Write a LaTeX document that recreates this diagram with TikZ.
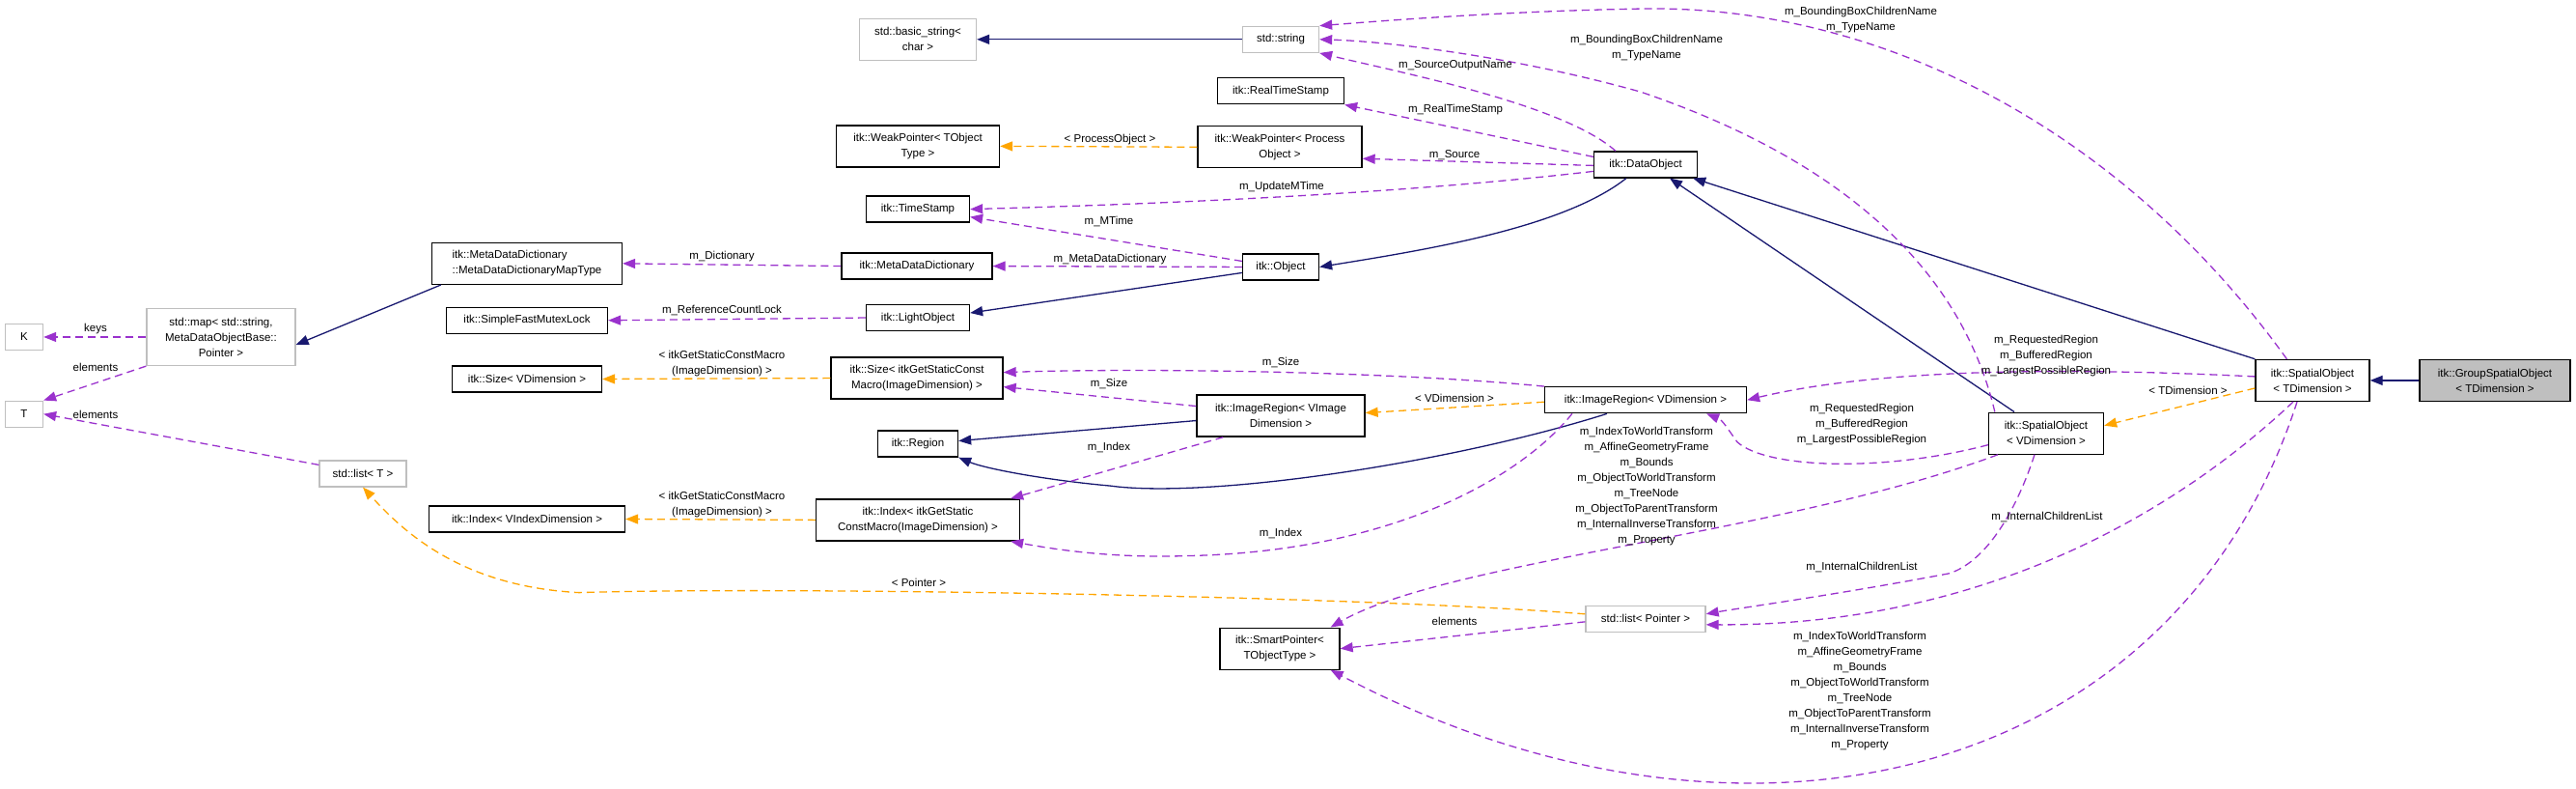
\documentclass[tikz,border=0pt]{standalone}
\usepackage{fontspec}
\setmainfont{Liberation Sans}
\usetikzlibrary{arrows.meta}
\definecolor{navy}{RGB}{25,25,112}
\definecolor{purp}{RGB}{154,50,205}
\definecolor{orng}{RGB}{255,165,0}
\definecolor{gborder}{RGB}{191,191,191}
\definecolor{gfill}{RGB}{191,191,191}
\begin{document}
\begin{tikzpicture}[x=1pt,y=-0.9064pt,
  font=\fontsize{11.5}{16}\selectfont,
  cls/.style={draw=black,line width=1.3pt,fill=white,inner sep=0pt,align=center},
  ext/.style={draw=gborder,line width=1.3pt,fill=white,inner sep=0pt,align=center},
  lbl/.style={inner sep=0pt,align=center},
  tip/.style={-{Triangle[length=13pt,width=10pt]}},
  inh/.style={tip,draw=navy,line width=1.3pt},
  use/.style={tip,draw=purp,line width=1.3pt,dash pattern=on 8pt off 5pt},
  tpl/.style={tip,draw=orng,line width=1.3pt,dash pattern=on 8pt off 5pt}]
\useasboundingbox (0,0) rectangle (2669,900.27);
% nodes
\node[ext,minimum width=39,minimum height=27] (K) at (25,385) {K};
\node[ext,minimum width=39,minimum height=27] (T) at (25,473) {T};
\node[ext,minimum width=154,minimum height=59] (map) at (229,385) {std::map\textless{} std::string,\\MetaDataObjectBase::\\Pointer \textgreater{}};
\node[cls,minimum width=197,minimum height=43,align=left] (mdt) at (546,301) {itk::MetaDataDictionary\\::MetaDataDictionaryMapType};
\node[cls,minimum width=167,minimum height=27] (sfml) at (546,366) {itk::SimpleFastMutexLock};
\node[cls,minimum width=155,minimum height=27] (sizeV) at (546,433) {itk::Size\textless{} VDimension \textgreater{}};
\node[ext,minimum width=90,minimum height=27] (listT) at (376,541) {std::list\textless{} T \textgreater{}};
\node[cls,minimum width=203,minimum height=27] (idxV) at (546,593) {itk::Index\textless{} VIndexDimension \textgreater{}};
\node[ext,minimum width=121,minimum height=43] (bstr) at (951,45) {std::basic\_string\textless{}\\char \textgreater{}};
\node[ext,minimum width=79,minimum height=27] (str) at (1327,45) {std::string};
\node[cls,minimum width=131,minimum height=27] (rts) at (1327,104) {itk::RealTimeStamp};
\node[cls,minimum width=169,minimum height=43] (wpt) at (951,167) {itk::WeakPointer\textless{} TObject\\Type \textgreater{}};
\node[cls,minimum width=170,minimum height=43] (wpp) at (1326,168) {itk::WeakPointer\textless{} Process\\Object \textgreater{}};
\node[cls,minimum width=107,minimum height=27] (ts) at (951,239) {itk::TimeStamp};
\node[cls,minimum width=156,minimum height=27] (mdd) at (950,304) {itk::MetaDataDictionary};
\node[cls,minimum width=79,minimum height=27] (obj) at (1327,305) {itk::Object};
\node[cls,minimum width=107,minimum height=27] (lo) at (951,363) {itk::LightObject};
\node[cls,minimum width=178,minimum height=43] (sizeS) at (950,432) {itk::Size\textless{} itkGetStaticConst\\Macro(ImageDimension) \textgreater{}};
\node[cls,minimum width=174,minimum height=43] (irvi) at (1327,475) {itk::ImageRegion\textless{} VImage\\Dimension \textgreater{}};
\node[cls,minimum width=83,minimum height=27] (reg) at (951,507) {itk::Region};
\node[cls,minimum width=211,minimum height=43] (idxS) at (951,594) {itk::Index\textless{} itkGetStatic\\ConstMacro(ImageDimension) \textgreater{}};
\node[cls,minimum width=124,minimum height=43] (sp) at (1326,741) {itk::SmartPointer\textless{}\\TObjectType \textgreater{}};
\node[ext,minimum width=124,minimum height=27] (listP) at (1705,707) {std::list\textless{} Pointer \textgreater{}};
\node[cls,minimum width=107,minimum height=27] (do) at (1705,188) {itk::DataObject};
\node[cls,minimum width=209,minimum height=27] (irv) at (1705,457) {itk::ImageRegion\textless{} VDimension \textgreater{}};
\node[cls,minimum width=118,minimum height=43] (sot) at (2396,434.6) {itk::SpatialObject\\\textless{} TDimension \textgreater{}};
\node[cls,fill=gfill,minimum width=156,minimum height=43] (gso) at (2585,434.6) {itk::GroupSpatialObject\\\textless{} TDimension \textgreater{}};
\node[cls,minimum width=119,minimum height=43] (sov) at (2120,495) {itk::SpatialObject\\\textless{} VDimension \textgreater{}};
% coordinates
\coordinate (a1) at (1700,10);
\coordinate (a2) at (1700,105);
% inheritance
\draw[inh] ([xshift=10pt]mdt.south west) -- ([yshift=-8pt]map.east);
\draw[inh] (str.west) -- (bstr.east);
\draw[inh] ([yshift=-6pt]obj.west) -- ([yshift=5pt]lo.east);
\draw[inh] ([xshift=-20pt]do.south) .. controls (1620,260) and (1480,285) .. (obj.east);
\draw[inh] (sot.north west) -- ([xshift=-5pt]do.south east);
\draw[inh] ([xshift=-33pt]sov.north) -- ([xshift=25pt]do.south);
\draw[inh] ([yshift=-5pt]irvi.west) -- ([yshift=3pt]reg.east);
\draw[inh] ([xshift=-40pt]irv.south) .. controls (1500,530) and (1250,570) .. (1150,555) .. controls (1080,548) and (1020,535) .. (reg.south east);
\draw[inh] (gso.west) -- (sot.east);
% template
\draw[tpl] (wpp.west) -- (wpt.east);
\draw[tpl] (sizeS.west) -- (sizeV.east);
\draw[tpl] (idxS.west) -- (idxV.east);
\draw[tpl] ([yshift=-2pt]irv.west) -- ([yshift=3pt]irvi.east);
\draw[tpl] ([yshift=-8pt]sot.west) -- ([yshift=8pt]sov.east);
\draw[tpl] ([yshift=5pt]listP.west) .. controls (1400,680) and (800,670) .. (600,677) .. controls (480,670) and (420,610) .. (listT.south);
% usage
\draw[use] ([xshift=33pt]sot.north west) .. controls (2200,150) and (1950,5) .. (a1) .. controls (1550,13) and (1420,25) .. (str.north east);
\draw[use] ([xshift=7pt]sov.north west) .. controls (2030,300) and (1900,180) .. (a2) .. controls (1560,62) and (1430,47) .. (str.east);
\draw[use] ([xshift=23pt]do.north west) .. controls (1620,120) and (1460,85) .. (str.south east);
\draw[use] ([yshift=8pt]do.west) -- (rts.south east);
\draw[use] ([yshift=-1pt]do.west) -- ([yshift=-12pt]wpp.east);
\draw[use] ([yshift=-7pt]do.west) .. controls (1500,215) and (1300,230) .. (ts.east);
\draw[use] ([yshift=6pt]obj.west) -- ([yshift=-8pt]ts.east);
\draw[use] (obj.west) -- (mdd.east);
\draw[use] (mdd.west) -- (mdt.east);
\draw[use] (map.west) -- (K.east);
\draw[use] (map.south west) -- (T.north east);
\draw[use] ([yshift=9pt]listT.west) -- (T.east);
\draw[use] (lo.west) -- (sfml.east);
\draw[use] ([yshift=10pt]irvi.west) -- ([yshift=-9pt]sizeS.east);
\draw[use] (irv.north west) .. controls (1450,425) and (1200,420) .. ([yshift=6pt]sizeS.east);
\draw[use] ([xshift=28pt]irvi.south west) -- ([xshift=-10pt]idxS.north east);
\draw[use] ([xshift=29pt]irv.south west) .. controls (1580,540) and (1450,630) .. (1230,635) .. controls (1150,638) and (1090,627) .. ([xshift=-10pt]idxS.south east);
\draw[use] ([yshift=4pt]sot.west) .. controls (2150,420) and (1950,420) .. (irv.east);
\draw[use] ([yshift=-12pt]sov.west) .. controls (1950,540) and (1830,535) .. (1800,505) .. controls (1790,490) and (1785,480) .. ([xshift=-42pt]irv.south east);
\draw[use] ([xshift=10pt]sov.south west) .. controls (1850,610) and (1500,640) .. ([xshift=-10pt]sp.north east);
\draw[use] ([xshift=-16pt]sot.south) .. controls (2250,900) and (1800,1010) .. ([xshift=-10pt]sp.south east);
\draw[use] ([yshift=-3pt]listP.west) -- (sp.east);
\draw[use] ([xshift=-12pt]sov.south) .. controls (2090,580) and (2060,640) .. (2020,655) .. controls (1900,680) and (1800,695) .. ([yshift=5pt]listP.east);
\draw[use] ([xshift=-20pt]sot.south) .. controls (2250,590) and (2050,715) .. ([yshift=-6pt]listP.east);
% labels
\node[lbl] (l1) at (1928,23) {m\_BoundingBoxChildrenName\\m\_TypeName};
\node[lbl] (l2) at (1706,55) {m\_BoundingBoxChildrenName\\m\_TypeName};
\node[lbl] (l3) at (1508,75) {m\_SourceOutputName};
\node[lbl] (l4) at (1508,125) {m\_RealTimeStamp};
\node[lbl] (l5) at (1150,159) {\textless{} ProcessObject \textgreater{}};
\node[lbl] (l6) at (1507,177) {m\_Source};
\node[lbl] (l7) at (1328,213) {m\_UpdateMTime};
\node[lbl] (l8) at (1149,253) {m\_MTime};
\node[lbl] (l9) at (1150,296) {m\_MetaDataDictionary};
\node[lbl] (l10) at (748,293) {m\_Dictionary};
\node[lbl] (l11) at (99,376) {keys};
\node[lbl] (l12) at (99,420) {elements};
\node[lbl] (l13) at (99,474) {elements};
\node[lbl] (l14) at (748,355) {m\_ReferenceCountLock};
\node[lbl] (l15) at (748,415) {\textless{} itkGetStaticConstMacro\\(ImageDimension) \textgreater{}};
\node[lbl] (l16) at (748,576) {\textless{} itkGetStaticConstMacro\\(ImageDimension) \textgreater{}};
\node[lbl] (l17) at (1149,439) {m\_Size};
\node[lbl] (l18) at (1327,414) {m\_Size};
\node[lbl] (l19) at (1149,511) {m\_Index};
\node[lbl] (l20) at (1327,610) {m\_Index};
\node[lbl] (l21) at (1507,455) {\textless{} VDimension \textgreater{}};
\node[lbl] (l22) at (2120,407) {m\_RequestedRegion\\m\_BufferedRegion\\m\_LargestPossibleRegion};
\node[lbl] (l23) at (1929,485) {m\_RequestedRegion\\m\_BufferedRegion\\m\_LargestPossibleRegion};
\node[lbl] (l24) at (2267,446) {\textless{} TDimension \textgreater{}};
\node[lbl] (l25) at (1706,556) {m\_IndexToWorldTransform\\m\_AffineGeometryFrame\\m\_Bounds\\m\_ObjectToWorldTransform\\m\_TreeNode\\m\_ObjectToParentTransform\\m\_InternalInverseTransform\\m\_Property};
\node[lbl] (l26) at (1927,789) {m\_IndexToWorldTransform\\m\_AffineGeometryFrame\\m\_Bounds\\m\_ObjectToWorldTransform\\m\_TreeNode\\m\_ObjectToParentTransform\\m\_InternalInverseTransform\\m\_Property};
\node[lbl] (l27) at (1507,710) {elements};
\node[lbl] (l28) at (952,666) {\textless{} Pointer \textgreater{}};
\node[lbl] (l29) at (1929,648) {m\_InternalChildrenList};
\node[lbl] (l30) at (2121,591) {m\_InternalChildrenList};
\end{tikzpicture}
\end{document}
